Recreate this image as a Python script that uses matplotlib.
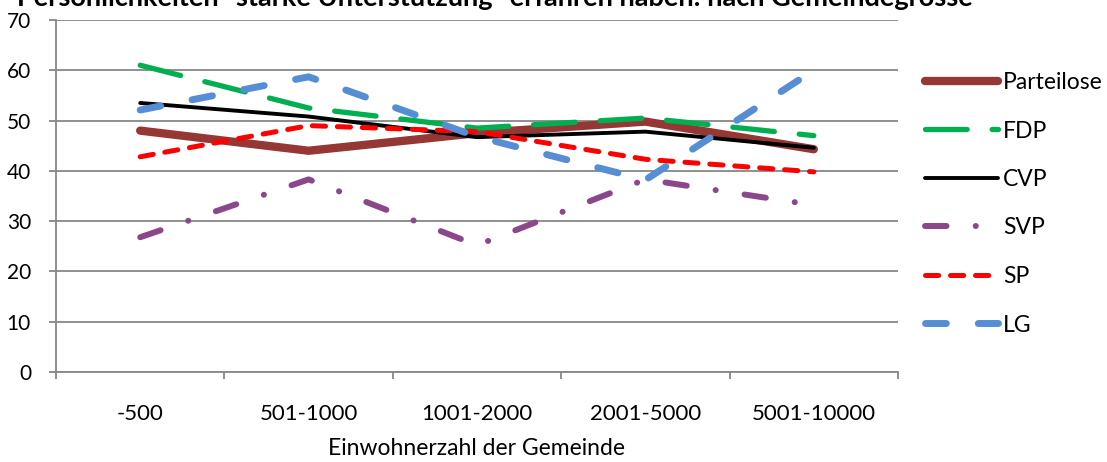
import matplotlib
matplotlib.use("Agg")
import matplotlib.pyplot as plt
from matplotlib.ticker import FixedLocator, NullFormatter

plt.rcParams['font.family'] = ['Lato', 'DejaVu Sans']
plt.rcParams['lines.scale_dashes'] = False

categories = ['-500', '501-1000', '1001-2000', '2001-5000', '5001-10000']
parteilose = [48.0, 44.0, 47.5, 49.8, 44.3]
fdp = [61.0, 52.5, 48.5, 50.5, 47.0]
cvp = [53.5, 50.8, 46.7, 47.8, 44.6]
svp = [26.8, 38.3, 25.2, 38.3, 33.2]
sp = [42.8, 49.0, 47.8, 42.3, 39.8]
lg = [52.1, 58.7, 46.8, 38.2, 60.0]

title = 'Persönlichkeiten "starke Unterstützung" erfahren haben: nach Gemeindegrösse'
xlabel = 'Einwohnerzahl der Gemeinde'

fig = plt.figure(figsize=(11.07, 4.62), dpi=100)
ax = fig.add_axes([56/1107, 90/462, (898-56)/1107, (372-20)/462])

x = list(range(len(categories)))
ax.plot(x, parteilose, color='#953735', lw=6.0, solid_capstyle='round', solid_joinstyle='round', label='Parteilose')
ax.plot(x, fdp, color='#00B050', lw=3.8, dashes=(30, 18), dash_capstyle='round', label='FDP')
ax.plot(x, cvp, color='black', lw=2.8, solid_capstyle='round', label='CVP')
ax.plot(x, svp, color='#8B4789', lw=4.3, dashes=(15.5, 21, 0.1, 21), dash_capstyle='round', label='SVP')
ax.plot(x, sp, color='#FF0000', lw=3.6, dashes=(9.5, 8.5), dash_capstyle='round', label='SP')
ax.plot(x, lg, color='#558ED5', lw=5.0, dashes=(15, 23), dash_capstyle='round', label='LG')

ax.set_xlim(-0.5, 4.5)
ax.set_ylim(0, 70)
ax.set_yticks(range(0, 71, 10))
ax.yaxis.grid(True, color='#878787', lw=1.3)
ax.set_axisbelow(True)

ax.set_xticks(x)
ax.set_xticklabels(categories)
ax.xaxis.set_minor_locator(FixedLocator([-0.5, 0.5, 1.5, 2.5, 3.5, 4.5]))
ax.xaxis.set_minor_formatter(NullFormatter())
ax.tick_params(axis='x', which='major', length=0, pad=23, labelsize=16)
ax.tick_params(axis='x', which='minor', length=5, width=1.3, color='#878787', direction='out')
ax.tick_params(axis='y', length=5, width=1.3, color='#878787', pad=13, labelsize=15)

for s in ['top', 'right']:
    ax.spines[s].set_visible(False)
for s in ['left', 'bottom']:
    ax.spines[s].set_color('#878787')
    ax.spines[s].set_linewidth(1.3)

ax.set_xlabel(xlabel, fontsize=16.5, labelpad=10)

fig.text(0.447, 1 - 6/462, title, ha='center', va='baseline', fontsize=19.5, fontweight='bold')

leg = ax.legend(loc='upper left', bbox_to_anchor=(925/1107, 1 - 72/462), bbox_transform=fig.transFigure,
                frameon=False, fontsize=16.5, handlelength=3.2, handletextpad=0.2,
                labelspacing=1.2, borderaxespad=0, borderpad=0)

fig.savefig('out.png', dpi=100)
